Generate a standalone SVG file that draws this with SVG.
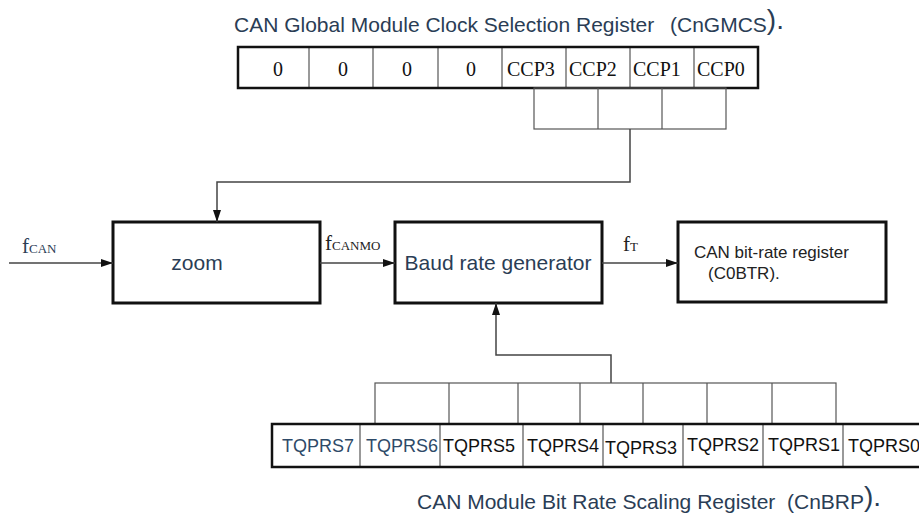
<svg xmlns="http://www.w3.org/2000/svg" width="919" height="517" viewBox="0 0 919 517">
<style>
.title{font-family:"Liberation Sans",Arial,sans-serif;font-size:21px;fill:#2a3d55}
.paren{font-size:28px}
.reg{font-family:"Liberation Serif","Times New Roman",serif;font-size:20px;fill:#111}
.tq{font-family:"Liberation Sans",Arial,sans-serif;font-size:18px;fill:#111}
.tqb{fill:#2e4a68}
.lbl{font-family:"Liberation Sans",Arial,sans-serif;font-size:21px;fill:#2a3d55}
.lbl2{font-family:"Liberation Sans",Arial,sans-serif;font-size:17px;fill:#222}
.f{font-family:"Liberation Serif","Times New Roman",serif;font-size:21px}
.sub{font-size:13px}
.box{fill:#fff;stroke:#111;stroke-width:3}
.cell{fill:none;stroke:#555;stroke-width:1.2}
.wire{fill:none;stroke:#444;stroke-width:1.5}
</style>
<defs>
<marker id="ah" markerWidth="12" markerHeight="8" refX="12" refY="4" orient="auto" markerUnits="userSpaceOnUse">
<path d="M0,0 L12,4 L0,8 Z" fill="#111"/>
</marker>
</defs>

<g id="title-top">
<text class="title" x="234" y="32">CAN Global Module Clock Selection Register</text>
<text class="title" x="670" y="32">(CnGMCS<tspan class="paren" dy="-3">).</tspan></text>
</g>

<g id="reg-cngmcs">
<line class="cell" x1="309" y1="47" x2="309" y2="88"/>
<line class="cell" x1="373" y1="47" x2="373" y2="88"/>
<line class="cell" x1="438" y1="47" x2="438" y2="88"/>
<line class="cell" x1="502" y1="47" x2="502" y2="88"/>
<line class="cell" x1="566" y1="47" x2="566" y2="88"/>
<line class="cell" x1="630" y1="47" x2="630" y2="88"/>
<line class="cell" x1="694" y1="47" x2="694" y2="88"/>
<rect x="238" y="47" width="520" height="41" fill="none" stroke="#111" stroke-width="2.5"/>
<text class="reg" x="278" y="76" text-anchor="middle">0</text>
<text class="reg" x="343" y="76" text-anchor="middle">0</text>
<text class="reg" x="407" y="76" text-anchor="middle">0</text>
<text class="reg" x="471" y="76" text-anchor="middle">0</text>
<text class="reg" x="507" y="76">CCP3</text>
<text class="reg" x="569" y="76">CCP2</text>
<text class="reg" x="633" y="76">CCP1</text>
<text class="reg" x="697" y="76">CCP0</text>
</g>

<g id="bracket-top">
<rect class="cell" x="534" y="88" width="192" height="41"/>
<line class="cell" x1="598" y1="88" x2="598" y2="129"/>
<line class="cell" x1="662" y1="88" x2="662" y2="129"/>
</g>

<g id="zoom">
<rect class="box" x="113" y="222" width="207" height="81"/>
<text class="lbl" x="197" y="270" text-anchor="middle">zoom</text>
</g>

<g id="baud">
<rect class="box" x="395" y="222" width="207" height="81"/>
<text class="lbl" x="498" y="270" text-anchor="middle">Baud rate generator</text>
</g>

<g id="btr">
<rect class="box" x="678" y="222" width="208" height="80"/>
<text class="lbl2" x="694" y="258">CAN bit-rate register</text>
<text class="lbl2" x="708" y="279">(C0BTR).</text>
</g>

<g id="connectors">
<path class="wire" d="M630,129 V182 H217 V222" marker-end="url(#ah)"/>
<line class="wire" x1="9" y1="263" x2="113" y2="263" marker-end="url(#ah)"/>
<line class="wire" x1="320" y1="263" x2="395" y2="263" marker-end="url(#ah)"/>
<line class="wire" x1="602" y1="263" x2="678" y2="263" marker-end="url(#ah)"/>
<path class="wire" d="M611,383 V355 H496 V303" marker-end="url(#ah)"/>
</g>

<g id="labels">
<text class="f" x="22" y="253" fill="#2a3d55">f<tspan class="sub">CAN</tspan></text>
<text class="f" x="325" y="250" fill="#222">f<tspan class="sub">CANMO</tspan></text>
<text class="f" x="623" y="251" fill="#222">f<tspan class="sub">T</tspan></text>
</g>

<g id="bracket-bottom">
<rect class="cell" x="375" y="383" width="461" height="41"/>
<line class="cell" x1="449" y1="383" x2="449" y2="424"/>
<line class="cell" x1="518" y1="383" x2="518" y2="424"/>
<line class="cell" x1="580" y1="383" x2="580" y2="424"/>
<line class="cell" x1="643" y1="383" x2="643" y2="424"/>
<line class="cell" x1="707" y1="383" x2="707" y2="424"/>
<line class="cell" x1="772" y1="383" x2="772" y2="424"/>
</g>

<g id="reg-cnbrp">
<line class="cell" x1="360" y1="424" x2="360" y2="467"/>
<line class="cell" x1="440" y1="424" x2="440" y2="467"/>
<line class="cell" x1="523" y1="424" x2="523" y2="467"/>
<line class="cell" x1="603" y1="424" x2="603" y2="467"/>
<line class="cell" x1="683" y1="424" x2="683" y2="467"/>
<line class="cell" x1="763" y1="424" x2="763" y2="467"/>
<line class="cell" x1="843" y1="424" x2="843" y2="467"/>
<path d="M921,424 H272 V467 H921" fill="none" stroke="#111" stroke-width="2.5"/>
<text class="tq tqb" x="282" y="452">TQPRS7</text>
<text class="tq tqb" x="366" y="452">TQPRS6</text>
<text class="tq" x="443" y="452">TQPRS5</text>
<text class="tq" x="527" y="452">TQPRS4</text>
<text class="tq" x="605" y="454">TQPRS3</text>
<text class="tq" x="687" y="451">TQPRS2</text>
<text class="tq" x="768" y="451">TQPRS1</text>
<text class="tq" x="848" y="452">TQPRS0</text>
</g>

<g id="title-bottom">
<text class="title" x="417" y="509">CAN Module Bit Rate Scaling Register</text>
<text class="title" x="787" y="509">(CnBRP<tspan class="paren" dy="-3">).</tspan></text>
</g>
</svg>
